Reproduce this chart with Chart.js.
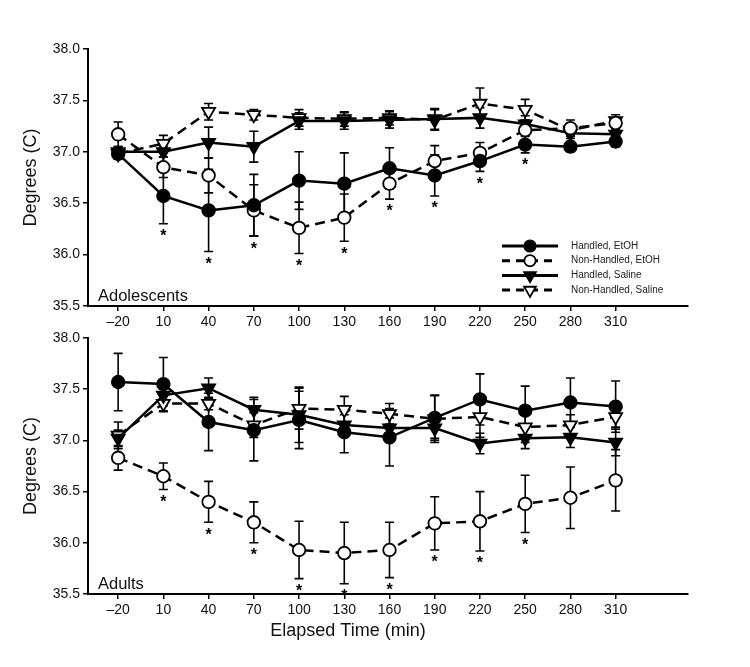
<!DOCTYPE html>
<html>
<head>
<meta charset="utf-8">
<script src="https://cdn.jsdelivr.net/npm/chart.js@4/dist/chart.umd.min.js"></script>
<style>
  body { margin: 0; background: #fff; }
  .panel { position: absolute; left: 0; width: 750px; }
</style>
</head>
<body>
<div class="panel" style="top:0;height:333px"><canvas id="adolChart"></canvas></div>
<div class="panel" style="top:320px;height:347px"><canvas id="adultChart"></canvas></div>
<script>
// time points (min) and series names
const times = [-20, 10, 40, 70, 100, 130, 160, 190, 220, 250, 280, 310];
const seriesNames = ["Handled, EtOH", "Non-Handled, EtOH", "Handled, Saline", "Non-Handled, Saline"];
const yTicks = [35.5, 36.0, 36.5, 37.0, 37.5, 38.0];

// Adolescents - means and SEM
const adolHandledEtOH      = [36.98, 36.57, 36.43, 36.48, 36.72, 36.69, 36.84, 36.77, 36.91, 37.07, 37.05, 37.10];
const adolHandledEtOHErr   = [0.05, 0.27, 0.40, 0.30, 0.28, 0.30, 0.20, 0.20, 0.10, 0.08, 0.05, 0.05];
const adolNonHandEtOH      = [37.17, 36.85, 36.77, 36.43, 36.26, 36.36, 36.69, 36.91, 36.99, 37.21, 37.23, 37.28];
const adolNonHandEtOHErr   = [0.12, 0.10, 0.17, 0.25, 0.25, 0.23, 0.15, 0.15, 0.10, 0.10, 0.08, 0.05];
const adolHandledSaline    = [37.00, 37.00, 37.09, 37.05, 37.30, 37.30, 37.31, 37.32, 37.33, 37.27, 37.18, 37.17];
const adolHandledSalineErr = [0.05, 0.05, 0.15, 0.15, 0.08, 0.08, 0.08, 0.10, 0.10, 0.08, 0.05, 0.05];
const adolNonHandSaline    = [36.98, 37.08, 37.39, 37.36, 37.33, 37.32, 37.33, 37.31, 37.47, 37.41, 37.21, 37.30];
const adolNonHandSalineErr = [0.05, 0.08, 0.08, 0.05, 0.08, 0.07, 0.07, 0.10, 0.15, 0.10, 0.05, 0.06];
const adolSig = [0, 1, 1, 1, 1, 1, 1, 1, 1, 1, 0, 0];

// Adults - means and SEM
const adultHandledEtOH      = [37.57, 37.55, 37.18, 37.10, 37.20, 37.08, 37.03, 37.22, 37.40, 37.29, 37.37, 37.33];
const adultHandledEtOHErr   = [0.28, 0.26, 0.28, 0.30, 0.28, 0.20, 0.28, 0.22, 0.25, 0.24, 0.24, 0.25];
const adultNonHandEtOH      = [36.83, 36.65, 36.40, 36.20, 35.93, 35.90, 35.93, 36.19, 36.21, 36.38, 36.44, 36.61];
const adultNonHandEtOHErr   = [0.12, 0.13, 0.20, 0.20, 0.28, 0.30, 0.27, 0.26, 0.29, 0.28, 0.30, 0.30];
const adultHandledSaline    = [37.02, 37.44, 37.51, 37.30, 37.25, 37.15, 37.12, 37.12, 36.97, 37.02, 37.03, 36.98];
const adultHandledSalineErr = [0.08, 0.10, 0.10, 0.12, 0.27, 0.10, 0.10, 0.10, 0.10, 0.10, 0.10, 0.13];
const adultNonHandSaline    = [37.05, 37.36, 37.36, 37.15, 37.31, 37.30, 37.26, 37.21, 37.23, 37.13, 37.15, 37.23];
const adultNonHandSalineErr = [0.13, 0.08, 0.06, 0.12, 0.20, 0.13, 0.10, 0.23, 0.20, 0.15, 0.10, 0.10];
const adultSig = [0, 1, 1, 1, 1, 1, 1, 1, 1, 1, 0, 0];

const FONT = 'Arial, "Liberation Sans", sans-serif';

function makeDatasets(vals, errs) {
  const styles = [
    { fill: '#000', dash: [], style: 'circle', rot: 0, r: 6.3 },
    { fill: '#fff', dash: [10, 6], style: 'circle', rot: 0, r: 6.3 },
    { fill: '#000', dash: [], style: 'triangle', rot: 180, r: 7.5 },
    { fill: '#fff', dash: [10, 6], style: 'triangle', rot: 180, r: 7.5 }
  ];
  return vals.map((v, i) => ({
    label: seriesNames[i],
    data: times.map((t, j) => ({ x: t, y: v[j] })),
    errors: errs[i],
    borderColor: '#000',
    borderWidth: 2.5,
    borderDash: styles[i].dash,
    pointStyle: styles[i].style,
    pointRotation: styles[i].rot,
    pointRadius: styles[i].r,
    pointBackgroundColor: styles[i].fill,
    pointBorderColor: '#000',
    pointBorderWidth: 1.8,
    tension: 0,
    fill: false
  }));
}

// error bars under the markers, asterisks under the lowest bar
const errorBars = {
  id: 'errorBars',
  beforeDatasetsDraw(chart) {
    const ctx = chart.ctx, ys = chart.scales.y;
    ctx.save();
    ctx.strokeStyle = '#000';
    ctx.lineWidth = 1.6;
    chart.data.datasets.forEach((ds, i) => {
      chart.getDatasetMeta(i).data.forEach((pt, j) => {
        const v = ds.data[j].y, e = ds.errors[j];
        const top = ys.getPixelForValue(v + e), bot = ys.getPixelForValue(v - e);
        ctx.beginPath();
        ctx.moveTo(pt.x, top); ctx.lineTo(pt.x, bot);
        ctx.moveTo(pt.x - 4.5, top); ctx.lineTo(pt.x + 4.5, top);
        ctx.moveTo(pt.x - 4.5, bot); ctx.lineTo(pt.x + 4.5, bot);
        ctx.stroke();
      });
    });
    ctx.restore();
  },
  afterDatasetsDraw(chart, args, opts) {
    const ctx = chart.ctx, ys = chart.scales.y, xs = chart.scales.x;
    ctx.save();
    ctx.fillStyle = '#000';
    ctx.font = 'bold 16px ' + FONT;
    ctx.textAlign = 'center';
    ctx.textBaseline = 'middle';
    opts.sig.forEach((s, j) => {
      if (!s) return;
      let low = Infinity;
      chart.data.datasets.forEach(ds => { low = Math.min(low, ds.data[j].y - ds.errors[j]); });
      ctx.fillText('*', xs.getPixelForValue(times[j]), ys.getPixelForValue(low) + 13);
    });
    ctx.restore();
  }
};

// panel name, legend and x title
const extras = {
  id: 'extras',
  afterDraw(chart, args, opts) {
    const ctx = chart.ctx, area = chart.chartArea;
    ctx.save();
    ctx.fillStyle = '#111';
    ctx.font = '16.5px ' + FONT;
    ctx.textAlign = 'left';
    ctx.textBaseline = 'alphabetic';
    ctx.fillText(opts.panel, area.left + 10, area.bottom - 5);
    if (opts.legend) {
      ctx.font = '10px ' + FONT;
      ctx.textBaseline = 'middle';
      chart.data.datasets.forEach((ds, i) => {
        const y = opts.legend.y + i * 14.7;
        const x0 = opts.legend.x, x1 = x0 + 56, xm = (x0 + x1) / 2;
        ctx.strokeStyle = '#000';
        ctx.lineWidth = 3;
        ctx.setLineDash(ds.borderDash.length ? [8, 6] : []);
        ctx.beginPath(); ctx.moveTo(x0, y); ctx.lineTo(x1, y); ctx.stroke();
        ctx.setLineDash([]);
        ctx.fillStyle = ds.pointBackgroundColor;
        ctx.lineWidth = 1.8;
        Chart.helpers.drawPoint(ctx, { pointStyle: ds.pointStyle, rotation: ds.pointRotation, radius: ds.pointRadius * 0.9, borderWidth: 1.8 }, xm, y);
        ctx.fillStyle = '#222';
        ctx.fillText(ds.label, x1 + 13, y);
      });
    }
    if (opts.xTitle) {
      ctx.fillStyle = '#111';
      ctx.font = '18px ' + FONT;
      ctx.textAlign = 'center';
      ctx.textBaseline = 'middle';
      ctx.fillText(opts.xTitle.text, opts.xTitle.x, opts.xTitle.y);
    }
    ctx.restore();
  }
};

function makeChart(id, vals, errs, sig, panel, xAxisHeight, topPad, legend, xTitle) {
  return new Chart(document.getElementById(id), {
    type: 'line',
    data: { datasets: makeDatasets(vals, errs) },
    plugins: [errorBars, extras],
    options: {
      responsive: true,
      maintainAspectRatio: false,
      animation: false,
      layout: { padding: { left: 0, right: 62, top: topPad, bottom: 0 } },
      plugins: {
        legend: { display: false },
        tooltip: { enabled: false },
        errorBars: { sig: sig },
        extras: { panel: panel, legend: legend, xTitle: xTitle }
      },
      scales: {
        x: {
          type: 'linear',
          min: -40, max: 358,
          afterBuildTicks: s => { s.ticks = times.map(t => ({ value: t })); },
          afterFit: s => { s.height = xAxisHeight; },
          ticks: {
            autoSkip: false, maxRotation: 0, padding: 3,
            color: '#111', font: { family: FONT, size: 14 },
            callback: v => String(v).replace('-', '\u2013')
          },
          grid: { drawOnChartArea: false, drawTicks: true, tickLength: 5, color: '#000', lineWidth: 1.5 },
          border: { display: true, color: '#000', width: 2 }
        },
        y: {
          min: 35.5, max: 38.0,
          afterBuildTicks: s => { s.ticks = yTicks.map(v => ({ value: v })); },
          afterFit: s => { s.width = 88; },
          ticks: {
            padding: 3, color: '#111', font: { family: FONT, size: 14 },
            callback: v => v.toFixed(1)
          },
          grid: { drawOnChartArea: false, drawTicks: true, tickLength: 5, color: '#000', lineWidth: 1.5 },
          border: { display: true, color: '#000', width: 2 },
          title: {
            display: true, text: 'Degrees (C)', color: '#111',
            font: { family: FONT, size: 18 }, padding: { top: 20, bottom: 0 }
          }
        }
      }
    }
  });
}

makeChart('adolChart',
  [adolHandledEtOH, adolNonHandEtOH, adolHandledSaline, adolNonHandSaline],
  [adolHandledEtOHErr, adolNonHandEtOHErr, adolHandledSalineErr, adolNonHandSalineErr],
  adolSig, 'Adolescents', 27, 49, { x: 502, y: 246 }, null);

makeChart('adultChart',
  [adultHandledEtOH, adultNonHandEtOH, adultHandledSaline, adultNonHandSaline],
  [adultHandledEtOHErr, adultNonHandEtOHErr, adultHandledSalineErr, adultNonHandSalineErr],
  adultSig, 'Adults', 73, 18, null, { text: 'Elapsed Time (min)', x: 348, y: 311 });
</script>
</body>
</html>
